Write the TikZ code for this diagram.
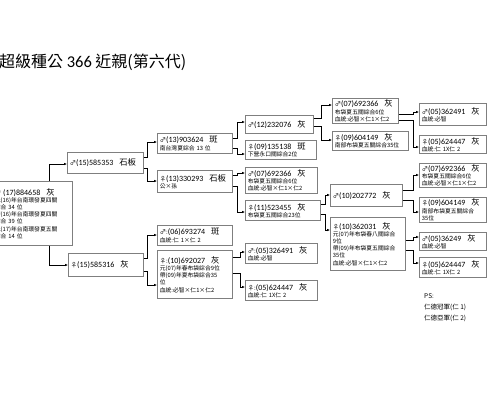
\documentclass[tikz,border=0pt]{standalone}
\usepackage{fontspec}
\setmainfont{Noto Sans CJK TC}
\newfontfamily\lat{Carlito}
\usetikzlibrary{calc,arrows.meta}
\definecolor{boxgray}{HTML}{7F7F7F}
\newcommand\ID[3]{{\fontsize{6.3}{9}\selectfont #1}{\fontsize{8}{9}\selectfont\lat #2}\hspace{6pt}{\fontsize{8.3}{9}\selectfont #3}}
\newcommand\pn[6]{%
  \pgfmathsetmacro\pnh{#5-#3}\pgfmathsetmacro\pntw{#4-#2-5}%
  \node[pbox,minimum height=\pnh pt,text width=\pntw pt] (#1) at (#2,#3) {#6};}
\newcommand\conn[5]{\draw[conn] ($(#1.north east)+(0,#2)$) -- ++(#5,0) |- ($(#3.north west)+(0,#4)$);}
\begin{document}
\begin{tikzpicture}[x=1pt,y=-1pt,
  pbox/.style={draw=boxgray,line width=0.7pt,anchor=north west,inner xsep=2.5pt,inner ysep=1pt,align=left,font=\fontsize{5.8}{7.2}\selectfont,text=black},
  conn/.style={draw=black,line width=0.6pt,-{Latex[length=3pt,width=2.6pt]}}]
\useasboundingbox (0,0) rectangle (500,400);
\clip (0,0) rectangle (500,400);
\fill[white] (0,0) rectangle (500,400);

\node[anchor=west,inner sep=0,font=\fontsize{16}{18}\selectfont] (title) at (-1,62) {超級種公 {\lat\fontsize{16.5}{18}\selectfont 366} 近親(第六代)};

\pn{root}{-8}{181}{72}{245}{\ID{♂ }{(17)884658}{灰}\\元(16)年台南環發夏四關\\綜合 34 位\\帶(16)年台南環發夏四關\\綜合 39 位\\元(17)年台南環發夏五關\\綜合 14 位}

\pn{b2}{67}{152}{143}{173}{\ID{♂}{(15)585353}{石板}}
\pn{b3}{68}{253}{143}{276}{\ID{♀}{(15)585316}{灰}}

\pn{b4}{157}{133}{232}{153}{\ID{♂}{(13)903624}{斑}\\南台灣夏綜合 13 位}
\pn{b5}{157}{170}{232}{192}{\ID{♀}{(13)330293}{石板}\\公×孫}
\pn{b6}{157}{225}{232}{245}{\ID{♂:}{(06)693274}{斑}\\血統:仁 1×仁 2}
\pn{b7}{157}{250}{232}{298}{\ID{♀:}{(10)692027}{灰}\\元(07)年春布袋綜合9位\\帶(09)年夏布袋綜合35\\位\\血統:必智×仁1×仁2}

\pn{b8}{245}{115}{313}{133}{\ID{♂}{(12)232076}{灰}}
\pn{b9}{245}{140}{316}{159}{\ID{♀}{(09)135138}{斑}\\下營永口關綜合2位}
\pn{b10}{245}{167}{317}{193}{\ID{♂}{(07)692366}{灰}\\布袋夏五關綜合6位\\血統:必智×仁1×仁2}
\pn{b11}{245}{200}{320}{220}{\ID{♀}{(11)523455}{灰}\\布袋夏五關綜合23位}
\pn{b12}{245}{243}{317}{263}{\ID{♂:}{(05)326491}{灰}\\血統:必智}
\pn{b13}{245}{280}{317}{300}{\ID{♀:}{(05)624447}{灰}\\血統:仁 1X仁 2}

\pn{b14}{332}{98}{398}{123}{\ID{♂}{(07)692366}{灰}\\布袋夏五關綜合6位\\血統:必智×仁1×仁2}
\pn{b15}{332}{131}{408}{150}{\ID{♀}{(09)604149}{灰}\\南部布袋夏五關綜合35位}
\pn{b16}{330}{184}{402}{206}{\ID{♂}{(10)202772}{灰}}
\pn{b17}{330}{217}{405}{270}{\ID{♀}{(10)362031}{灰}\\元(07)年布袋春八關綜合\\9位\\帶(09)年布袋夏五關綜合\\35位\\血統:必智×仁1×仁2}

\pn{b18}{419}{103}{486}{125}{\ID{♂}{(05)362491}{灰}\\血統:必智}
\pn{b19}{419}{135}{486}{153}{\ID{♀}{(05)624447}{灰}\\血統:仁 1X仁 2}
\pn{b20}{419}{163}{486}{187}{\ID{♂}{(07)692366}{灰}\\布袋夏五關綜合6位\\血統:必智×仁1×仁2}
\pn{b21}{419}{197}{486}{222}{\ID{♀}{(09)604149}{灰}\\南部布袋夏五關綜合\\35位}
\pn{b22}{419}{232}{486}{250}{\ID{♂}{(05)36249}{灰}\\血統:必智}
\pn{b23}{419}{257}{486}{277}{\ID{♀}{(05)624447}{灰}\\血統:仁 1X仁 2}

\node[anchor=north west,inner sep=0,align=left,font=\fontsize{6.5}{11}\selectfont] (ps) at (424,293) {PS:\\仁德冠軍(仁 1)\\仁德亞軍(仁 2)};

\draw[conn] ($(root.north east)+(-23,0)$) |- ($(b2.north west)+(0,12)$);
\draw[conn] ($(root.south east)+(-23,0)$) |- ($(b3.north west)+(0,12)$);
\conn{b2}{5}{b4}{9}{4}
\conn{b2}{16}{b5}{11}{4}
\conn{b3}{5}{b6}{10}{4}
\conn{b3}{18}{b7}{35}{4}
\conn{b4}{5}{b8}{7}{5}
\conn{b4}{15}{b9}{14}{5}
\conn{b5}{5}{b10}{6}{5}
\conn{b5}{16}{b11}{12}{5}
\conn{b7}{7}{b12}{9}{8}
\conn{b7}{23}{b13}{7}{8}
\conn{b8}{3}{b14}{7}{8}
\conn{b8}{11}{b15}{9}{8}
\conn{b11}{4}{b16}{11}{5}
\conn{b11}{14}{b17}{13}{5}
\conn{b14}{16}{b18}{9}{15}
\conn{b14}{22}{b19}{12}{15}
\conn{b16}{6}{b20}{12}{11}
\conn{b16}{16}{b21}{15}{11}
\conn{b17}{23}{b22}{5}{8}
\conn{b17}{33}{b23}{6}{8}
\end{tikzpicture}
\end{document}
